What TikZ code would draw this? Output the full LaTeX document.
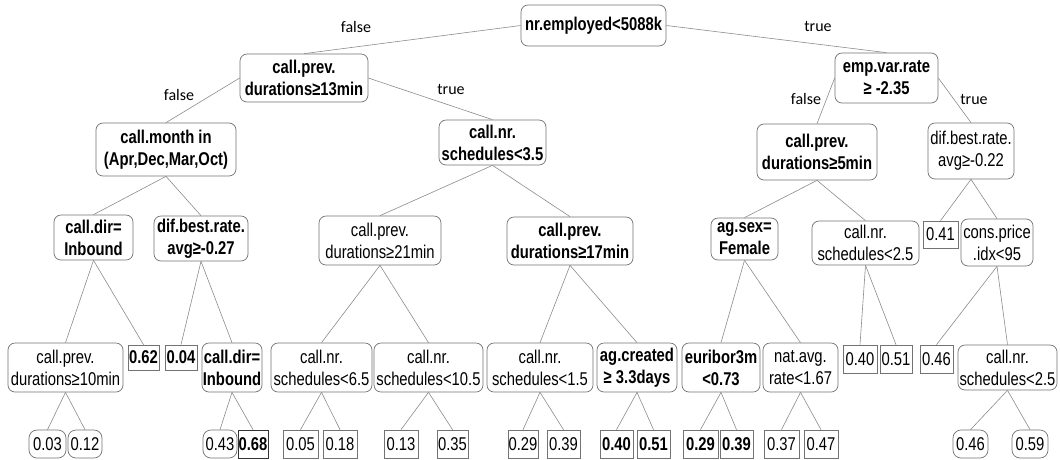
\documentclass[tikz,border=0pt]{standalone}
\usepackage{fontspec}
\setmainfont{Liberation Sans}[FakeStretch=0.8]
\newfontfamily\lblfont{Carlito}
\definecolor{bordc}{gray}{0.45}
\definecolor{edgec}{gray}{0.55}
\begin{document}
\begin{tikzpicture}[x=1pt,y=-1pt,
  every node/.style={font=\fontsize{18.5}{22}\selectfont, inner sep=0pt, align=center},
  sp/.style={draw=bordc, line width=0.7pt, rounded corners=7pt},
  sb/.style={sp, font=\fontsize{18.5}{22}\selectfont\bfseries},
  lv/.style={draw=bordc, line width=0.7pt, minimum width=33pt, minimum height=27pt},
  lvb/.style={lv, font=\fontsize{18.5}{22}\selectfont\bfseries},
  lr/.style={draw=bordc, line width=0.7pt, rounded corners=8pt, minimum width=35pt, minimum height=28pt},
  lbl/.style={font=\lblfont\fontsize{16}{18}\selectfont},
  edge/.style={draw=edgec, line width=0.6pt}
]
\fill[white] (0,0) rectangle (1060,459);
\useasboundingbox (0,0) rectangle (1060,459);

% level 0
\node[sb, minimum width=145pt, minimum height=41pt] (root) at (593.5,25.5) {nr.employed<5088k};
% level 1
\node[sb, minimum width=128pt, minimum height=48pt] (n13) at (304,78) {call.prev.\\durations≥13min};
\node[sb, minimum width=103pt, minimum height=50pt] (emp) at (886.5,78) {emp.var.rate\\≥ -2.35};
% level 2
\node[sb, minimum width=140pt, minimum height=53pt] (month) at (166,149.5) {call.month in\\(Apr,Dec,Mar,Oct)};
\node[sb, minimum width=107pt, minimum height=45pt] (s35) at (492.5,142.5) {call.nr.\\schedules<3.5};
\node[sb, minimum width=120pt, minimum height=56pt] (d5) at (817,152) {call.prev.\\durations≥5min};
\node[sp, minimum width=86pt, minimum height=56pt] (dbr22) at (971,151) {dif.best.rate.\\avg≥-0.22};
% level 3
\node[sb, minimum width=79pt, minimum height=45pt] (cdir1) at (93.5,237.5) {call.dir=\\Inbound};
\node[sb, minimum width=94pt, minimum height=45pt] (dbr27) at (201,238.5) {dif.best.rate.\\avg≥-0.27};
\node[sp, minimum width=122pt, minimum height=49pt] (d21) at (380,240.5) {call.prev.\\durations≥21min};
\node[sb, minimum width=126pt, minimum height=48pt] (d17) at (570,241) {call.prev.\\durations≥17min};
\node[sb, minimum width=67pt, minimum height=42pt] (sex) at (744.5,239) {ag.sex=\\Female};
\node[sp, minimum width=107pt, minimum height=44pt] (s25a) at (865.5,243) {call.nr.\\schedules<2.5};
\node[lv, minimum width=35pt] (v041) at (940.5,234.5) {0.41};
\node[sp, minimum width=72pt, minimum height=47pt] (cpi) at (997,242.5) {cons.price\\.idx<95};
% level 4
\node[sp, minimum width=115pt, minimum height=49pt] (d10) at (65.5,367.5) {call.prev.\\durations≥10min};
\node[lvb, minimum width=31pt, minimum height=25pt] (v062) at (143.5,357.5) {0.62};
\node[lvb, minimum width=32pt, minimum height=25pt] (v004) at (181,357.5) {0.04};
\node[sb, minimum width=60pt, minimum height=49pt] (cdir2) at (232,367.5) {call.dir=\\Inbound};
\node[sp, minimum width=101pt, minimum height=49pt] (s65) at (321.5,367.5) {call.nr.\\schedules<6.5};
\node[sp, minimum width=109pt, minimum height=49pt] (s105) at (428.5,367.5) {call.nr.\\schedules<10.5};
\node[sp, minimum width=106pt, minimum height=49pt] (s15) at (540,367.5) {call.nr.\\schedules<1.5};
\node[sb, minimum width=80pt, minimum height=49pt] (agc) at (637,367.5) {ag.created\\≥ 3.3days};
\node[sb, minimum width=78pt, minimum height=49pt] (eur) at (721,367.5) {euribor3m\\<0.73};
\node[sp, minimum width=75pt, minimum height=49pt] (nat) at (800.5,367.5) {nat.avg.\\rate<1.67};
\node[lv, minimum width=34pt, minimum height=28pt] (v040) at (860,359) {0.40};
\node[lv, minimum width=32pt, minimum height=28pt] (v051) at (896,359) {0.51};
\node[lv, minimum width=33pt, minimum height=28pt] (v046) at (936.5,359) {0.46};
\node[sp, minimum width=99pt, minimum height=45pt] (s25b) at (1007.5,367.5) {call.nr.\\schedules<2.5};
% level 5
\node[lr, minimum width=37pt] (v003) at (47.5,444) {0.03};
\node[lr, minimum width=34pt] (v012) at (85,444) {0.12};
\node[lr, minimum width=34pt] (v043) at (220,444) {0.43};
\node[lvb, draw=black!80, minimum width=30pt, minimum height=28pt] (v068) at (253,444) {0.68};
\node[lv, minimum width=35pt, minimum height=28pt] (v005) at (300.5,444) {0.05};
\node[lv, minimum width=34pt, minimum height=28pt] (v018) at (340,444) {0.18};
\node[lv, minimum width=34pt, minimum height=28pt] (v013) at (401,444) {0.13};
\node[lv, minimum width=31pt, minimum height=28pt] (v035) at (452.5,444) {0.35};
\node[lv, minimum width=30pt, minimum height=28pt] (v029) at (523,444) {0.29};
\node[lv, minimum width=33pt, minimum height=28pt] (v039) at (563.5,444) {0.39};
\node[lvb, minimum width=33pt, minimum height=28pt] (v040b) at (616.5,444) {0.40};
\node[lvb, minimum width=33pt, minimum height=28pt] (v051b) at (653.5,444) {0.51};
\node[lvb, minimum width=35pt, minimum height=28pt] (v029b) at (700.5,444) {0.29};
\node[lvb, minimum width=33pt, minimum height=28pt] (v039b) at (736.5,444) {0.39};
\node[lv, minimum width=35pt, minimum height=28pt] (v037) at (781.5,444) {0.37};
\node[lv, minimum width=34pt, minimum height=28pt] (v047) at (821,444) {0.47};
\node[lr, minimum width=35pt] (v046b) at (970.5,444) {0.46};
\node[lr, minimum width=36pt] (v059) at (1030,444) {0.59};

% edge labels
\node[lbl] (l1) at (356,27) {false};
\node[lbl] (l2) at (818,26) {true};
\node[lbl] (l3) at (179,95) {false};
\node[lbl] (l4) at (451,89) {true};
\node[lbl] (l5) at (806,99) {false};
\node[lbl] (l6) at (974,99) {true};

% edges
\draw[edge] (root.west) -- (n13.north);
\draw[edge] (root.east) -- (emp.north);
\draw[edge] (n13.west) -- (month.north);
\draw[edge] (n13.east) -- (s35.north);
\draw[edge] (emp.west) -- (d5.north);
\draw[edge] (emp.east) -- (dbr22.north);
\draw[edge] (month.south) -- (cdir1.north);
\draw[edge] (month.south) -- (dbr27.north);
\draw[edge] (s35.south) -- (d21.north);
\draw[edge] (s35.south) -- (d17.north);
\draw[edge] (d5.south) -- (sex.north);
\draw[edge] (d5.south) -- (s25a.north);
\draw[edge] (dbr22.south) -- (v041.north);
\draw[edge] (dbr22.south) -- (cpi.north);
\draw[edge] (cdir1.south) -- (d10.north);
\draw[edge] (cdir1.south) -- (v062.north);
\draw[edge] (dbr27.south) -- (v004.north);
\draw[edge] (dbr27.south) -- (cdir2.north);
\draw[edge] (d21.south) -- (s65.north);
\draw[edge] (d21.south) -- (s105.north);
\draw[edge] (d17.south) -- (s15.north);
\draw[edge] (d17.south) -- (agc.north);
\draw[edge] (sex.south) -- (eur.north);
\draw[edge] (sex.south) -- (nat.north);
\draw[edge] (s25a.south) -- (v040.north);
\draw[edge] (s25a.south) -- (v051.north);
\draw[edge] (cpi.south) -- (v046.north);
\draw[edge] (cpi.south) -- (s25b.north);
\draw[edge] (d10.south) -- (v003.north);
\draw[edge] (d10.south) -- (v012.north);
\draw[edge] (cdir2.south) -- (v043.north);
\draw[edge] (cdir2.south) -- (v068.north);
\draw[edge] (s65.south) -- (v005.north);
\draw[edge] (s65.south) -- (v018.north);
\draw[edge] (s105.south) -- (v013.north);
\draw[edge] (s105.south) -- (v035.north);
\draw[edge] (s15.south) -- (v029.north);
\draw[edge] (s15.south) -- (v039.north);
\draw[edge] (agc.south) -- (v040b.north);
\draw[edge] (agc.south) -- (v051b.north);
\draw[edge] (eur.south) -- (v029b.north);
\draw[edge] (eur.south) -- (v039b.north);
\draw[edge] (nat.south) -- (v037.north);
\draw[edge] (nat.south) -- (v047.north);
\draw[edge] (s25b.south) -- (v046b.north);
\draw[edge] (s25b.south) -- (v059.north);
\end{tikzpicture}
\end{document}
